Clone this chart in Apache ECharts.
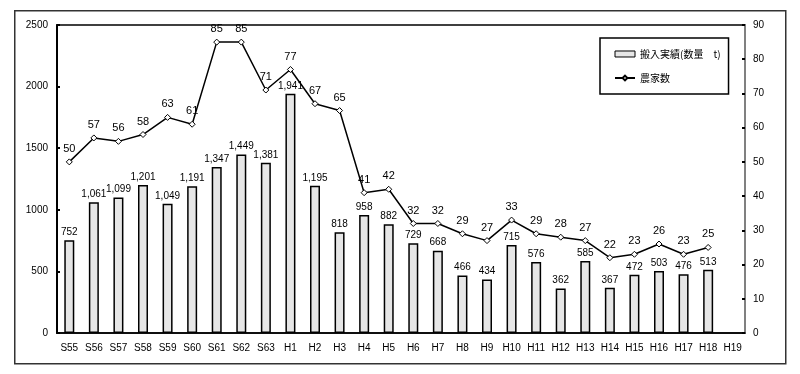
<!DOCTYPE html>
<html><head><meta charset="utf-8">
<script src="https://cdn.jsdelivr.net/npm/echarts@6/dist/echarts.min.js"></script>
<style>html,body{margin:0;padding:0;background:#fff}#c{width:800px;height:374px}</style>
</head><body><div id="c"></div>
<script>
const categories = ['S55','S56','S57','S58','S59','S60','S61','S62','S63','H1','H2','H3','H4','H5','H6','H7','H8','H9','H10','H11','H12','H13','H14','H15','H16','H17','H18','H19'];
const deliveries = [752,1061,1099,1201,1049,1191,1347,1449,1381,1941,1195,818,958,882,729,668,466,434,715,576,362,585,367,472,503,476,513,null];
const farmers = [50,57,56,58,63,61,85,85,71,77,67,65,41,42,32,32,29,27,33,29,28,27,22,23,26,23,25,null];
const barName = '搬入実績(数量　t)';
const lineName = '農家数';

const font = 'Liberation Sans, DejaVu Sans, Noto Sans CJK JP, sans-serif';
const chart = echarts.init(document.getElementById('c'));
chart.setOption({
  animation: false,
  backgroundColor: '#fff',
  textStyle: { fontFamily: font },
  graphic: [{
    type: 'rect', left: 14, top: 10, z: -1,
    shape: { width: 771, height: 353 },
    style: { fill: '#fff', stroke: '#333', lineWidth: 1.5 }
  }],
  grid: { left: 57, right: 55, top: 25, bottom: 41, show: true, borderColor: '#000', borderWidth: 1.5, backgroundColor: 'transparent' },
  legend: {
    left: 600, top: 38, orient: 'vertical',
    borderColor: '#000', borderWidth: 1.5, backgroundColor: '#fff',
    padding: [11, 8, 11, 14], itemGap: 14, itemWidth: 20, itemHeight: 6,
    textStyle: { fontSize: 10, color: '#000', fontFamily: 'Noto Sans CJK JP, sans-serif' },
    data: [
      { name: barName, icon: 'rect', itemStyle: { color: '#e6e6e6', borderColor: '#000', borderWidth: 1 } },
      { name: lineName }
    ]
  },
  xAxis: {
    type: 'category', data: categories,
    axisLine: { lineStyle: { color: '#000', width: 1.5 } },
    axisTick: { inside: true, length: 4, lineStyle: { color: '#000', width: 2 } },
    axisLabel: { color: '#000', fontSize: 10, margin: 10, interval: 0 }
  },
  yAxis: [{
    type: 'value', min: 0, max: 2500, interval: 500,
    axisLine: { show: true, lineStyle: { color: '#000', width: 2 } },
    axisTick: { show: true, inside: true, length: 3, lineStyle: { color: '#000', width: 2 } },
    splitLine: { show: false },
    axisLabel: { color: '#000', fontSize: 10, margin: 9, formatter: v => String(v) }
  }, {
    type: 'value', min: 0, max: 90, interval: 10, position: 'right',
    axisLine: { show: true, lineStyle: { color: '#808080', width: 2 } },
    axisTick: { show: true, inside: true, length: 3, lineStyle: { color: '#000', width: 2 } },
    splitLine: { show: false },
    axisLabel: { color: '#000', fontSize: 10, margin: 8 }
  }],
  series: [{
    name: barName, type: 'bar', data: deliveries, barWidth: 10,
    itemStyle: { color: '#e6e6e6', borderColor: '#000', borderWidth: 1.5 },
    label: { show: true, position: 'top', distance: 3, fontSize: 10, color: '#000',
      formatter: p => p.value == null ? '' : p.value.toLocaleString('en-US') }
  }, {
    name: lineName, type: 'line', yAxisIndex: 1, data: farmers,
    symbol: 'diamond', symbolSize: 6,
    lineStyle: { color: '#000', width: 1.5 },
    itemStyle: { color: '#fff', borderColor: '#000', borderWidth: 1 },
    label: { show: true, position: 'top', distance: 4, fontSize: 11, color: '#000' },
    z: 5
  }]
});
</script></body></html>
